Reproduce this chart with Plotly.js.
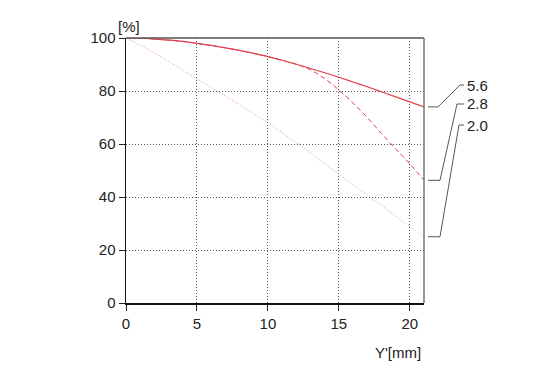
<!DOCTYPE html>
<html>
<head>
<meta charset="utf-8">
<script src="https://cdn.plot.ly/plotly-3.0.1.min.js"></script>
<style>html,body{margin:0;padding:0;background:#fff;}#chart{width:550px;height:370px;}</style>
</head>
<body>
<div id="chart"></div>
<script>
var xPos = [0,1,2,3,4,5,6,7,8,9,10,11,12,13,14,15,16,17,18,19,20,21];
var f56 = [100,99.9,99.6,99.2,98.7,98.0,97.2,96.3,95.3,94.2,93.0,91.6,90.1,88.5,86.9,85.2,83.4,81.6,79.7,77.8,75.9,74.0];
var f28 = [100,99.9,99.6,99.2,98.7,98.0,97.2,96.3,95.3,94.2,93.0,91.6,90.1,88.0,84.7,80.4,75.5,70.0,64.0,58.2,52.5,46.3];
var f20 = [100,97.3,94.3,91.1,87.9,84.6,81.4,78.1,74.8,71.4,68.0,64.3,60.5,56.6,52.6,48.6,44.6,40.7,36.8,32.8,28.9,25.0];
var seriesNames = ["5.6","2.8","2.0"];
var xTicks = [0,5,10,15,20];
var yTicks = [0,20,40,60,80,100];

var L = 126, R = 424, T = 38, B = 303;
function px(x){ return (x - L) / (R - L); }
function py(y){ return (B - y) / (B - T); }
var FONT = 'Liberation Sans, Arial, sans-serif';

var traces = [
  {x: xPos, y: f20, mode: 'lines', line: {color: '#e0909c', width: 1, dash: '1px,2px', shape: 'spline'}, hoverinfo: 'skip'},
  {x: xPos, y: f28, mode: 'lines', line: {color: '#e0404f', width: 1, dash: '5px,3px', shape: 'spline'}, hoverinfo: 'skip'},
  {x: xPos, y: f56, mode: 'lines', line: {color: '#e0404f', width: 1.2, shape: 'spline'}, hoverinfo: 'skip'}
];

var ends = [f56[f56.length-1], f28[f28.length-1], f20[f20.length-1]];
var labelY = [85, 104, 125];
var bendX = [438, 440, 440];
var diagX = [460, 457, 459];
var shapes = [
  {type:'line', xref:'paper', yref:'paper', x0:0, x1:1, y0:1, y1:1, line:{color:'#555', width:1.5}},
  {type:'line', xref:'paper', yref:'paper', x0:1, x1:1, y0:0, y1:1, line:{color:'#777', width:1.5}}
];
var annotations = [];
for (var i = 0; i < 3; i++) {
  var ey = ends[i] / 100;
  var ly = py(labelY[i]);
  shapes.push({type:'path', xref:'paper', yref:'paper',
    path: 'M ' + px(428) + ' ' + ey + ' L ' + px(bendX[i]) + ' ' + ey +
          ' L ' + px(diagX[i]) + ' ' + ly + ' L ' + px(464) + ' ' + ly,
    line:{color:'#555', width:1}});
  annotations.push({xref:'paper', yref:'paper', x: px(465), y: ly, xanchor:'left', yanchor:'middle',
    text: seriesNames[i], showarrow:false, font:{family:FONT, size:15, color:'#222'}});
}
annotations.push({xref:'paper', yref:'paper', x: px(116), y: py(26), xanchor:'left', yanchor:'middle',
  text:'[%]', showarrow:false, font:{family:FONT, size:15, color:'#222'}});
annotations.push({xref:'paper', yref:'paper', x: px(423), y: py(352), xanchor:'right', yanchor:'middle',
  text:"Y'[mm]", showarrow:false, font:{family:FONT, size:15, color:'#222'}});

var layout = {
  width: 550, height: 370,
  margin: {l: L, r: 550 - R, t: T, b: 370 - B, pad: 0},
  paper_bgcolor: '#fff', plot_bgcolor: '#fff',
  showlegend: false,
  font: {family: FONT, size: 15, color: '#222'},
  xaxis: {range: [0, 21], tickvals: xTicks, ticktext: xTicks.map(String), ticks: 'outside', ticklen: 6,
    tickcolor: '#222', showline: true, linecolor: '#111', linewidth: 1.5, showgrid: true,
    gridcolor: '#555', griddash: '1px,2px', gridwidth: 1, zeroline: false, fixedrange: true},
  yaxis: {range: [0, 100], tickvals: yTicks, ticktext: yTicks.map(String), ticks: 'outside', ticklen: 6,
    tickcolor: '#222', showline: true, linecolor: '#111', linewidth: 1.5, showgrid: true,
    gridcolor: '#555', griddash: '1px,2px', gridwidth: 1, zeroline: false, fixedrange: true},
  shapes: shapes,
  annotations: annotations
};
Plotly.newPlot('chart', traces, layout, {staticPlot: true, displayModeBar: false});
</script>
</body>
</html>
